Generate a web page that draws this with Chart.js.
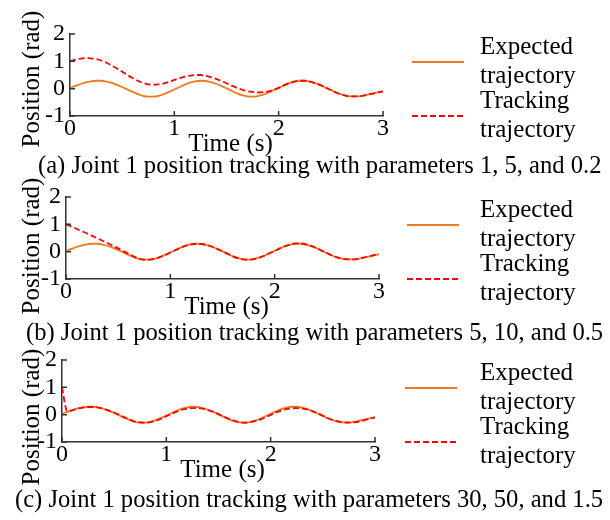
<!DOCTYPE html>
<html>
<head>
<meta charset="utf-8">
<script src="https://cdn.jsdelivr.net/npm/chart.js@4.4.1/dist/chart.umd.min.js"></script>
<style>
  html, body { margin: 0; padding: 0; background: #fff; }
  #wrap { position: relative; width: 610px; height: 520px; overflow: hidden; }
  canvas { position: absolute; left: 0; }
  .cap { position: absolute; font: 24.6px "Liberation Serif", serif; line-height: 25px; white-space: nowrap; color: #000; }
</style>
</head>
<body>
<div id="wrap">
  <canvas id="c1" width="610" height="160" style="top:0px"></canvas>
  <canvas id="c2" width="610" height="160" style="top:163px"></canvas>
  <canvas id="c3" width="610" height="160" style="top:326px"></canvas>
  <div class="cap" style="left:38px;top:152px">(a) Joint 1 position tracking with parameters 1, 5, and 0.2</div>
  <div class="cap" style="left:26px;top:319px">(b) Joint 1 position tracking with parameters 5, 10, and 0.5</div>
  <div class="cap" style="left:15px;top:486px">(c) Joint 1 position tracking with parameters 30, 50, and 1.5</div>
</div>
<script>
// time axis (s)
const times = [0, 0.05, 0.1, 0.15, 0.2, 0.25, 0.3, 0.35, 0.4, 0.45,
  0.5, 0.55, 0.6, 0.65, 0.7, 0.75, 0.8, 0.85, 0.9, 0.95,
  1, 1.05, 1.1, 1.15, 1.2, 1.25, 1.3, 1.35, 1.4, 1.45,
  1.5, 1.55, 1.6, 1.65, 1.7, 1.75, 1.8, 1.85, 1.9, 1.95,
  2, 2.05, 2.1, 2.15, 2.2, 2.25, 2.3, 2.35, 2.4, 2.45,
  2.5, 2.55, 2.6, 2.65, 2.7, 2.75, 2.8, 2.85, 2.9, 2.95, 3];

// expected trajectory (rad), same in every panel
const expected = [0.03, 0.10, 0.17, 0.23, 0.27, 0.29, 0.29, 0.26, 0.21, 0.14,
  0.06, -0.03, -0.12, -0.20, -0.26, -0.29, -0.29, -0.26, -0.20, -0.12,
  -0.03, 0.06, 0.15, 0.22, 0.27, 0.29, 0.28, 0.24, 0.18, 0.10,
  0.01, -0.08, -0.17, -0.24, -0.28, -0.29, -0.27, -0.22, -0.15, -0.06,
  0.03, 0.12, 0.20, 0.26, 0.29, 0.29, 0.26, 0.20, 0.13, 0.04,
  -0.05, -0.14, -0.21, -0.26, -0.28, -0.28, -0.26, -0.22, -0.18, -0.14, -0.10];

// tracking trajectories (rad)
const trackingA = [1.00, 1.06, 1.10, 1.12, 1.11, 1.08, 1.03, 0.95, 0.85, 0.74,
  0.62, 0.50, 0.39, 0.29, 0.21, 0.16, 0.15, 0.16, 0.19, 0.25,
  0.32, 0.38, 0.44, 0.48, 0.50, 0.50, 0.47, 0.42, 0.36, 0.28,
  0.20, 0.11, 0.03, -0.04, -0.09, -0.12, -0.14, -0.13, -0.10, -0.04,
  0.03, 0.12, 0.20, 0.26, 0.29, 0.29, 0.26, 0.20, 0.13, 0.04,
  -0.05, -0.14, -0.21, -0.26, -0.28, -0.28, -0.26, -0.22, -0.18, -0.14, -0.10];

const trackingB = [1.00, 0.92, 0.84, 0.75, 0.67, 0.58, 0.49, 0.40, 0.31, 0.21,
  0.12, 0.02, -0.08, -0.18, -0.26, -0.29, -0.29, -0.26, -0.20, -0.12,
  -0.03, 0.06, 0.15, 0.22, 0.27, 0.29, 0.28, 0.24, 0.18, 0.10,
  0.01, -0.08, -0.17, -0.24, -0.28, -0.29, -0.27, -0.22, -0.15, -0.06,
  0.03, 0.12, 0.20, 0.27, 0.30, 0.30, 0.27, 0.21, 0.13, 0.04,
  -0.05, -0.14, -0.21, -0.26, -0.28, -0.28, -0.26, -0.22, -0.17, -0.13, -0.09];

const trackingC = [1.00, 0.13, 0.16, 0.22, 0.26, 0.28, 0.28, 0.26, 0.21, 0.15,
  0.08, -0.01, -0.10, -0.18, -0.25, -0.28, -0.29, -0.27, -0.22, -0.15,
  -0.06, 0.03, 0.11, 0.18, 0.22, 0.24, 0.24, 0.22, 0.17, 0.10,
  0.02, -0.07, -0.15, -0.22, -0.27, -0.29, -0.28, -0.24, -0.18, -0.10,
  -0.01, 0.08, 0.15, 0.20, 0.23, 0.24, 0.23, 0.19, 0.13, 0.05,
  -0.04, -0.13, -0.20, -0.25, -0.28, -0.29, -0.28, -0.25, -0.20, -0.15, -0.10];

const xTicks = [0, 1, 2, 3];
const yTicks = [-1, 0, 1, 2];
const seriesNames = ["Expected trajectory", "Tracking trajectory"];

const FONT = '"Liberation Serif", "Times New Roman", serif';
const AXIS = "#333";
Chart.defaults.font.family = FONT;
Chart.defaults.color = "#000";

// inward tick marks, axis titles and the legend on the right
const decor = {
  id: "decor",
  afterDraw(chart, args, opts) {
    const { ctx, chartArea: a, scales } = chart;
    ctx.save();
    ctx.strokeStyle = AXIS;
    ctx.lineWidth = 1.5;
    ctx.beginPath();
    xTicks.forEach(v => {
      const px = scales.x.getPixelForValue(v);
      ctx.moveTo(px, a.bottom);
      ctx.lineTo(px, a.bottom - 5);
    });
    yTicks.forEach(v => {
      const py = scales.y.getPixelForValue(v);
      ctx.moveTo(a.left, py);
      ctx.lineTo(a.left + 5, py);
    });
    ctx.stroke();

    ctx.fillStyle = "#000";
    ctx.font = "25px " + FONT;
    ctx.textAlign = "center";
    ctx.textBaseline = "alphabetic";
    ctx.fillText("Time (s)", (a.left + a.right) / 2 + 4, a.bottom + 35);

    ctx.save();
    ctx.translate(32, opts.yTitleY);
    ctx.rotate(-Math.PI / 2);
    ctx.textBaseline = "middle";
    ctx.fillText("Position (rad)", 0, 0);
    ctx.restore();

    // legend
    chart.data.datasets.forEach((ds, i) => {
      const ly = a.top + 28 + i * 54;
      ctx.save();
      ctx.strokeStyle = ds.borderColor;
      ctx.lineWidth = 1.8;
      ctx.setLineDash(ds.borderDash || []);
      ctx.beginPath();
      ctx.moveTo(opts.legendX, ly);
      ctx.lineTo(opts.legendX + 52, ly);
      ctx.stroke();
      ctx.restore();
      const words = ds.label.split(" ");
      ctx.textAlign = "left";
      ctx.textBaseline = "alphabetic";
      ctx.fillText(words[0], 480, ly - 8);
      ctx.fillText(words[1], 480, ly + 21);
    });
    ctx.restore();
  }
};

function makePanel(id, tracking, box) {
  const ctx = document.getElementById(id).getContext("2d");
  return new Chart(ctx, {
    type: "line",
    data: {
      labels: times,
      datasets: [
        {
          label: seriesNames[0],
          data: expected,
          borderColor: "#EE7A1E",
          borderWidth: 1.8,
          pointRadius: 0,
          fill: false,
          cubicInterpolationMode: "monotone",
          order: 2,
        },
        {
          label: seriesNames[1],
          data: tracking,
          borderColor: "#FF0000",
          borderWidth: 1.8,
          borderDash: [6, 3],
          pointRadius: 0,
          fill: false,
          cubicInterpolationMode: "monotone",
          order: 1,
        },
      ],
    },
    options: {
      responsive: false,
      animation: false,
      events: [],
      layout: { padding: { top: 34, right: 610 - box.right, left: 0, bottom: 0 } },
      plugins: {
        legend: { display: false },
        tooltip: { enabled: false },
        decor: { yTitleY: box.yTitleY, legendX: box.legendX },
      },
      scales: {
        x: {
          type: "linear",
          min: 0,
          max: 3,
          afterFit: s => { s.height = 160 - 116; },
          afterBuildTicks: s => { s.ticks = xTicks.map(v => ({ value: v })); },
          ticks: { font: { size: 24, lineHeight: 1 }, padding: 1 },
          grid: { display: false, drawTicks: false },
          border: { display: true, color: AXIS, width: 1.5 },
        },
        y: {
          min: -1,
          max: 2,
          afterFit: s => { s.width = box.left; },
          afterBuildTicks: s => { s.ticks = yTicks.map(v => ({ value: v })); },
          ticks: { font: { size: 24, lineHeight: 1 }, padding: 5 },
          grid: { display: false, drawTicks: false },
          border: { display: true, color: AXIS, width: 1.5 },
        },
      },
    },
    plugins: [decor],
  });
}

makePanel("c1", trackingA, { left: 70, right: 383, yTitleY: 79, legendX: 412 });
makePanel("c2", trackingB, { left: 66, right: 379, yTitleY: 83, legendX: 407 });
makePanel("c3", trackingC, { left: 62, right: 375, yTitleY: 91, legendX: 405 });
</script>
</body>
</html>
